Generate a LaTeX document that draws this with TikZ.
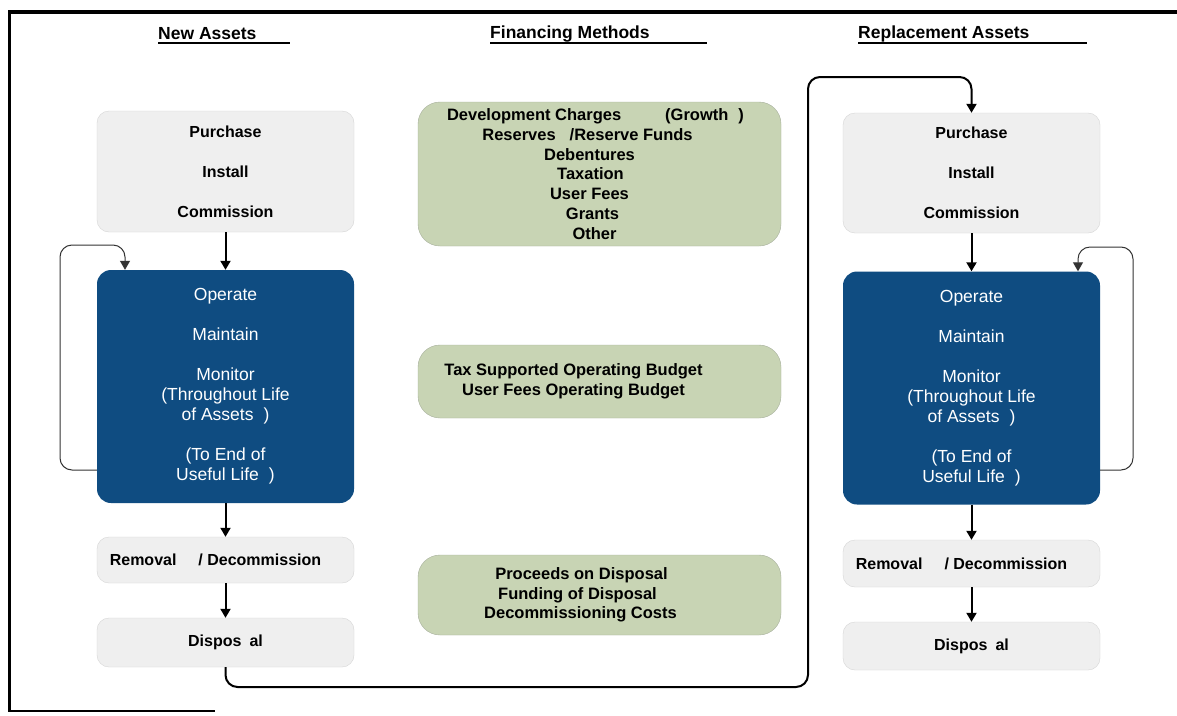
\documentclass[tikz,border=0pt]{standalone}
\usepackage{fontspec}
\setmainfont{Liberation Sans}
\usetikzlibrary{arrows.meta}
\newcommand{\padr}[1]{\rule{#1}{0pt}}
\definecolor{boxgray}{HTML}{EFEFEF}
\definecolor{boxgrayline}{HTML}{D6D6D6}
\definecolor{opblue}{HTML}{0F4C81}
\definecolor{fingreen}{HTML}{C8D4B4}
\definecolor{fingreenline}{HTML}{A7B09C}
\tikzset{
  graybox/.style={draw=boxgrayline, fill=boxgray, rounded corners=12pt, minimum width=257pt, align=center, text=black, font=\fontsize{16}{40}\selectfont\bfseries, inner sep=0pt},
  bluebox/.style={fill=opblue, rounded corners=14pt, minimum width=257pt, minimum height=233pt, align=center, text=white, font=\fontsize{17.5}{20}\selectfont, inner sep=0pt},
  greenbox/.style={draw=fingreenline, fill=fingreen, rounded corners=22pt, minimum width=363pt, align=center, text=black, font=\fontsize{16.5}{19.7}\selectfont\bfseries, inner sep=0pt},
  header/.style={anchor=west, font=\fontsize{17.5}{20}\selectfont\bfseries, inner sep=0pt},
  flow/.style={line width=2pt, -{Triangle[width=10pt,length=9pt]}},
  loopline/.style={line width=1pt, draw=black!80, rounded corners=12pt, -{Triangle[width=10pt,length=9pt]}},
  bigline/.style={line width=2pt, rounded corners=12pt, -{Triangle[width=10pt,length=9pt]}},
}
\begin{document}
\begin{tikzpicture}[x=1pt,y=-1pt]
\useasboundingbox (0,0) rectangle (1177,715);
\fill[white] (0,0) rectangle (1177,715);
% frame
\draw[line width=4pt] (8,12) -- (1177,12);
\draw[line width=3pt] (9.5,11) -- (9.5,712);
\draw[line width=2pt] (8.5,711) -- (215,711);
% headers
\node[header] (hnew) at (158,34) {New Assets};
\draw[line width=1.5pt] (158,43) -- (290,43);
\node[header] (hfin) at (490,34) {Financing Methods};
\draw[line width=1.5pt] (490,43) -- (707,43);
\node[header] (hrep) at (858,34) {Replacement Assets};
\draw[line width=1.5pt] (858,43) -- (1087,43);
% left column
\node[graybox, minimum height=121pt] (newpur) at (225.5,171.5) {Purchase\\Install\\Commission};
\node[bluebox] (newop) at (225.5,386.5) {Operate\\[20pt]Maintain\\[20pt]Monitor\\(Throughout Life\\of Assets\hspace{10pt})\\[20pt](To End of\\Useful Life\hspace{10pt})};
\node[graybox, minimum height=46pt, font=\fontsize{16}{20}\selectfont\bfseries] (newrem) at (225.5,560) {Removal\hspace{22pt}/ Decommission\padr{20pt}};
\node[graybox, minimum height=49pt, font=\fontsize{16}{20}\selectfont\bfseries] (newdis) at (225.5,642.5) {Dispos\hspace{8pt}al};
\draw[flow] (newpur.south) -- (newop.north);
\draw[flow] (newop.south) -- (newrem.north);
\draw[flow] (newrem.south) -- (newdis.north);
\coordinate (llb) at (60,470);
\coordinate (llt) at (60,245);
\coordinate (lle) at (125,245);
\draw[loopline] (llb -| newop.west) -- (llb) -- (llt) -- (lle) -- (lle |- newop.north);
% middle column
\node[greenbox, minimum height=144pt] (fin1) at (599.5,174) {Development Charges\hspace{44pt}(Growth\hspace{10pt})\padr{8pt}\\Reserves\hspace{14pt}/Reserve Funds\padr{24pt}\\Debentures\padr{20pt}\\Taxation\padr{18pt}\\User Fees\padr{20pt}\\Grants\padr{14pt}\\Other\padr{10pt}};
\node[greenbox, minimum height=73pt] (fin2) at (599.5,381.5) {Tax Supported Operating Budget\padr{52pt}\\User Fees Operating Budget\padr{52pt}};
\node[greenbox, minimum height=80pt] (fin3) at (599.5,595) {Proceeds on Disposal\padr{36pt}\\Funding of Disposal\padr{44pt}\\Decommissioning Costs\padr{38pt}};
% right column
\node[graybox, minimum height=120pt] (reppur) at (971.5,173) {Purchase\\Install\\Commission};
\node[bluebox] (repop) at (971.5,388) {Operate\\[20pt]Maintain\\[20pt]Monitor\\(Throughout Life\\of Assets\hspace{10pt})\\[20pt](To End of\\Useful Life\hspace{10pt})};
\node[graybox, minimum height=47pt, font=\fontsize{16}{20}\selectfont\bfseries] (reprem) at (971.5,563.5) {Removal\hspace{22pt}/ Decommission\padr{20pt}};
\node[graybox, minimum height=48pt, font=\fontsize{16}{20}\selectfont\bfseries] (repdis) at (971.5,646) {Dispos\hspace{8pt}al};
\draw[flow] (reppur.south) -- (repop.north);
\draw[flow] (repop.south) -- (reprem.north);
\draw[flow] (reprem.south) -- (repdis.north);
\coordinate (rlb) at (1133,470);
\coordinate (rlt) at (1133,247);
\coordinate (rle) at (1078,247);
\draw[loopline] (rlb -| repop.east) -- (rlb) -- (rlt) -- (rle) -- (rle |- repop.north);
% link from new disposal to replacement purchase
\coordinate (c1) at (225.5,687);
\coordinate (c2) at (808,687);
\coordinate (c3) at (808,77);
\coordinate (c4) at (971.5,77);
\draw[bigline] (newdis.south) -- (c1) -- (c2) -- (c3) -- (c4) -- (reppur.north);
\end{tikzpicture}
\end{document}
